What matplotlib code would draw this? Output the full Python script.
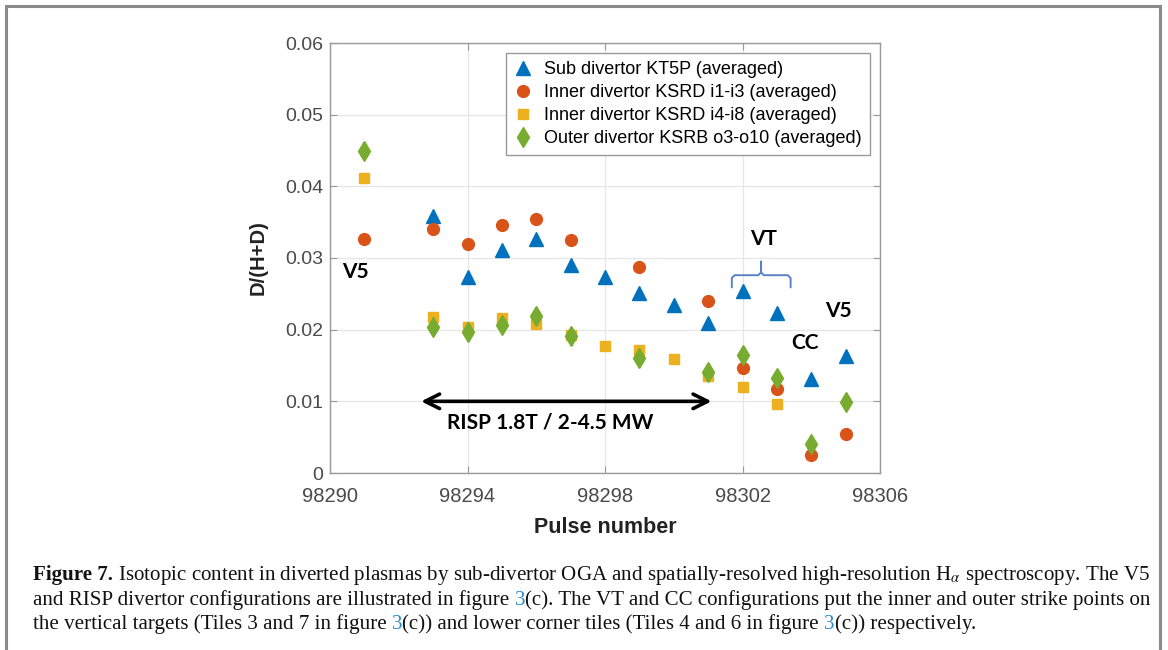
import numpy as np
import matplotlib
matplotlib.use('Agg')
import matplotlib.pyplot as plt
from matplotlib.patches import Rectangle
from matplotlib.ticker import FixedLocator, FuncFormatter

plt.rcParams['font.family'] = ['Liberation Sans', 'DejaVu Sans']
plt.rcParams['mathtext.fontset'] = 'stix'

# D/(H+D) per pulse (nan = no visible marker)
pulses = [98291, 98293, 98294, 98295, 98296, 98297, 98298,
          98299, 98300, 98301, 98302, 98303, 98304, 98305]
nan = np.nan
sub_kt5p = [nan, 0.0358, 0.0273, 0.0311, 0.0327, 0.0290, 0.0274,
            0.0251, 0.0234, 0.0210, 0.0254, 0.0223, 0.0131, 0.0163]
inner_i1_i3 = [0.0327, 0.0341, 0.0320, 0.0346, 0.0354, 0.0325, nan,
               0.0287, nan, 0.0240, 0.0146, 0.0117, 0.0025, 0.0054]
inner_i4_i8 = [0.0411, 0.0218, 0.0204, 0.0216, 0.0208, 0.0192, 0.0177,
               0.0172, 0.0159, 0.0135, 0.0120, 0.0096, nan, nan]
outer_o3_o10 = [0.0450, 0.0204, 0.0197, 0.0207, 0.0219, 0.0191, nan,
                0.0160, nan, 0.0141, 0.0165, 0.0133, 0.0040, 0.0099]

series_labels = ['Sub divertor KT5P (averaged)',
                 'Inner divertor KSRD i1-i3 (averaged)',
                 'Inner divertor KSRD i4-i8 (averaged)',
                 'Outer divertor KSRB o3-o10 (averaged)']
x_ticks = [98290, 98294, 98298, 98302, 98306]
y_ticks = [0, 0.01, 0.02, 0.03, 0.04, 0.05, 0.06]

W, H = 1168, 650
fig = plt.figure(figsize=(W / 100, H / 100), dpi=100)
fig.patch.set_facecolor('white')

# grey page frame (bottom edge runs off the picture)
fig.add_artist(Rectangle((6 / W, -0.1), (1160 - 6) / W, 1.1 - 6 / H,
                         transform=fig.transFigure, fill=False,
                         edgecolor='#8a8a8a', lw=2.2))

ax = fig.add_axes([330 / W, 1 - 473 / H, 550 / W, 430 / H])

ax.plot(pulses, sub_kt5p, '^', color='#0072BD', ms=10, ls='none', label=series_labels[0])
ax.plot(pulses, inner_i1_i3, 'o', color='#D95319', ms=8.5, ls='none', label=series_labels[1])
ax.plot(pulses, inner_i4_i8, 's', color='#EDB120', ms=6.5, ls='none', label=series_labels[2])
ax.plot(pulses, outer_o3_o10, 'd', color='#77AC30', ms=10.5, ls='none', label=series_labels[3])

ax.set_xlim(98290, 98306)
ax.set_ylim(0, 0.06)
ax.xaxis.set_major_locator(FixedLocator(x_ticks))
ax.yaxis.set_major_locator(FixedLocator(y_ticks))
ax.xaxis.set_major_formatter(FuncFormatter(lambda v, p: '%d' % v))
ax.yaxis.set_major_formatter(FuncFormatter(lambda v, p: '0' if v == 0 else ('%.2f' % v)))
ax.grid(True, color='#e6e6e6', lw=0.9)
ax.set_axisbelow(True)
for s in ax.spines.values():
    s.set_color('#9a9a9a')
    s.set_linewidth(1.0)
ax.tick_params(direction='in', length=5, width=0.8, color='#9a9a9a',
               labelcolor='#4a4a4a', top=True, right=True)
ax.tick_params(axis='y', labelsize=14, pad=5)
ax.tick_params(axis='x', labelsize=14.5, pad=10)
ax.set_xlabel('Pulse number', fontsize=15.5, fontweight='bold', color='#222222', labelpad=8)
ax.set_ylabel('D/(H+D)', fontsize=14.5, fontweight='bold', color='#222222')
ax.yaxis.set_label_coords(-0.113, 0.5)

leg = ax.legend(loc='upper right', bbox_to_anchor=(0.982, 0.977), fontsize=13,
                frameon=True, fancybox=False, framealpha=1, edgecolor='#9a9a9a',
                handletextpad=0.7, borderpad=0.45, labelspacing=0.33,
                handlelength=1.0, borderaxespad=0)
leg.get_frame().set_linewidth(1.0)

# annotations
ann = dict(fontsize=15, fontweight='bold', family=['Lato', 'DejaVu Sans'], color='black')
ax.text(98290.75, 0.0281, 'V5', ha='center', va='center', **ann)
ax.text(98302.6, 0.0326, 'VT', ha='center', va='center', **ann)
ax.text(98303.83, 0.0181, 'CC', ha='center', va='center', **ann)
ax.text(98304.8, 0.0226, 'V5', ha='center', va='center', **ann)
ax.text(98296.4, 0.0070, 'RISP 1.8T / 2-4.5 MW', ha='center', va='center', **ann)
ax.annotate('', xy=(98292.65, 0.010), xytext=(98301.1, 0.010),
            arrowprops=dict(arrowstyle='<->', lw=2.6, color='black', mutation_scale=26,
                            shrinkA=0, shrinkB=0))

# VT brace
bx0, bx1, bmid = 98301.69, 98303.4, 98302.54
by_end, by_bar, by_top = 0.0259, 0.0276, 0.0295
ax.plot([bx0, bx0, bx0 + 0.08, bmid - 0.08, bmid, bmid, bmid, bmid + 0.08, bx1 - 0.08, bx1, bx1],
        [by_end, by_bar - 0.0004, by_bar, by_bar, by_bar + 0.0004, by_top,
         by_bar + 0.0004, by_bar, by_bar, by_bar - 0.0004, by_end],
        color='#5b80c8', lw=1.4, solid_capstyle='round')

# caption, built piece by piece so the figure references can be coloured
serif = ['Liberation Serif', 'DejaVu Serif']
link = '#2a8bc9'
cap_size = 15.1
lines = [
    [('Figure 7.', dict(fontweight='bold')),
     (' Isotopic content in diverted plasmas by sub-divertor OGA and spatially-resolved '
      'high-resolution H$_{\\alpha}$ spectroscopy. The V5', {})],
    [('and RISP divertor configurations are illustrated in figure ', {}),
     ('3', dict(color=link)),
     ('(c). The VT and CC configurations put the inner and outer strike points on', {})],
    [('the vertical targets (Tiles 3 and 7 in figure ', {}),
     ('3', dict(color=link)),
     ('(c)) and lower corner tiles (Tiles 4 and 6 in figure ', {}),
     ('3', dict(color=link)),
     ('(c)) respectively.', {})],
]
baselines = [H - 580, H - 605, H - 629]
for pieces, yb in zip(lines, baselines):
    prev = None
    for txt, kw in pieces:
        opts = dict(fontsize=cap_size, family=serif, color='#111111', va='baseline', ha='left',
                    annotation_clip=False)
        opts.update(kw)
        if prev is None:
            prev = ax.annotate(txt, xy=(33, yb), xycoords='figure pixels', **opts)
        else:
            prev = ax.annotate(txt, xy=(1, yb), xycoords=(prev, 'figure pixels'), **opts)

fig.savefig('out.png', dpi=100)
